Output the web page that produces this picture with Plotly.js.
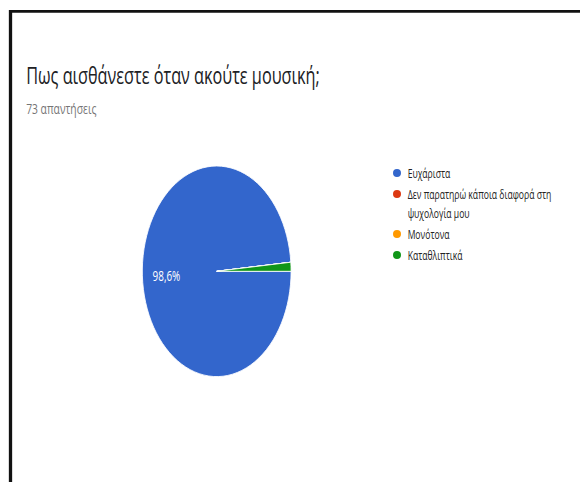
<!DOCTYPE html>
<html><head><meta charset="utf-8">
<script src="https://cdn.plot.ly/plotly-3.0.1.min.js"></script>
<style>
html,body{margin:0;padding:0;background:#fff;overflow:hidden;width:580px;height:482px}
#wrap{width:580px;height:482px;overflow:hidden;position:relative;background:#fff}
#chart{width:821px;height:482px;transform:scaleX(0.70646);transform-origin:0 0;position:absolute;left:0;top:0}
</style></head><body><div id="wrap"><div id="chart"></div></div>
<script>
const titleText = 'Πως αισθάνεστε όταν ακούτε μουσική;';
const subtitleText = '73 απαντήσεις';
const categories = ['Ευχάριστα', 'Δεν παρατηρώ κάποια διαφορά στη ψυχολογία μου', 'Μονότονα', 'Καταθλιπτικά'];
const counts = [72, 0, 0, 1];
const colors = ['#3366cc', '#dc3912', '#ff9900', '#109618'];

const W = 821, H = 482, S = 580 / 821;
const px = x => (x / S) / W;      // reference pixel x -> paper
const py = y => 1 - y / H;        // reference pixel y -> paper

const total = counts.reduce((a, b) => a + b, 0);
const pctText = v => (v / total * 100).toFixed(1).replace('.', ',') + '%';

function wrap(str, max) {
  const words = str.split(' ');
  const lines = [];
  let cur = '';
  words.forEach(w => {
    const t = cur ? cur + ' ' + w : w;
    if (t.length > max && cur) { lines.push(cur); cur = w; } else { cur = t; }
  });
  if (cur) lines.push(cur);
  return lines;
}

const FONT = '"Open Sans", Roboto, Arial, sans-serif';
const annotations = [
  {text: titleText, xref: 'paper', yref: 'paper', x: px(25), y: py(75), xanchor: 'left', yanchor: 'middle',
   showarrow: false, font: {family: FONT, size: 23, color: '#202124'}},
  {text: subtitleText, xref: 'paper', yref: 'paper', x: px(25), y: py(108.5), xanchor: 'left', yanchor: 'middle',
   showarrow: false, font: {family: FONT, size: 14.6, color: '#757575'}}
];
const shapes = [
  {type: 'line', xref: 'paper', yref: 'paper', x0: px(10.5), x1: 1.05, y0: py(11.3), y1: py(11.3),
   line: {color: '#111', width: 2.7}},
  {type: 'line', xref: 'paper', yref: 'paper', x0: px(10.5), x1: px(10.5), y0: py(10), y1: -0.05,
   line: {color: '#111', width: 3.3 / S}}
];

let yRow = 173;
categories.forEach((c, i) => {
  const lines = wrap(c, 32);
  shapes.push({type: 'circle', xref: 'paper', yref: 'paper',
    x0: px(397 - 4), x1: px(397 + 4), y0: py(yRow + 4), y1: py(yRow - 4),
    fillcolor: colors[i], line: {width: 0}});
  lines.forEach((ln, j) => {
    annotations.push({text: ln, xref: 'paper', yref: 'paper', x: px(406), y: py(yRow + j * 19),
      xanchor: 'left', yanchor: 'middle', showarrow: false,
      font: {family: FONT, size: 12.2, color: '#222'}});
  });
  yRow += (lines.length - 1) * 19 + 21;
});

// pie geometry (unscaled figure pixels)
const cx = 216.7 / S, cy = 271.3, r = 105.3;

// slice percentage labels, placed along each big slice's mid-angle
let cum = 0;
counts.forEach(v => {
  const mid = -(cum + v / 2) / total * 2 * Math.PI;   // clockwise from 3 o'clock
  cum += v;
  if (v / total < 0.05) return;
  const lx = cx + 0.68 * r * Math.cos(mid);
  const ly = cy - 0.68 * r * Math.sin(mid) + 1;
  annotations.push({text: pctText(v), xref: 'paper', yref: 'paper', x: lx / W, y: 1 - ly / H,
    xanchor: 'center', yanchor: 'middle', showarrow: false,
    font: {family: FONT, size: 14, color: '#ffffff'}});
});

const data = [{
  type: 'pie',
  values: counts,
  labels: categories,
  textinfo: 'none',
  marker: {colors: colors, line: {color: '#ffffff', width: 1}},
  sort: false,
  direction: 'clockwise',
  rotation: 90,
  showlegend: false,
  hoverinfo: 'none',
  domain: {x: [(cx - r) / W, (cx + r) / W], y: [1 - (cy + r) / H, 1 - (cy - r) / H]}
}];

const layout = {
  width: W, height: H,
  margin: {l: 0, r: 0, t: 0, b: 0},
  paper_bgcolor: '#ffffff',
  plot_bgcolor: '#ffffff',
  showlegend: false,
  annotations: annotations,
  shapes: shapes
};

Plotly.newPlot('chart', data, layout, {staticPlot: true, displayModeBar: false});
</script>
</body></html>
